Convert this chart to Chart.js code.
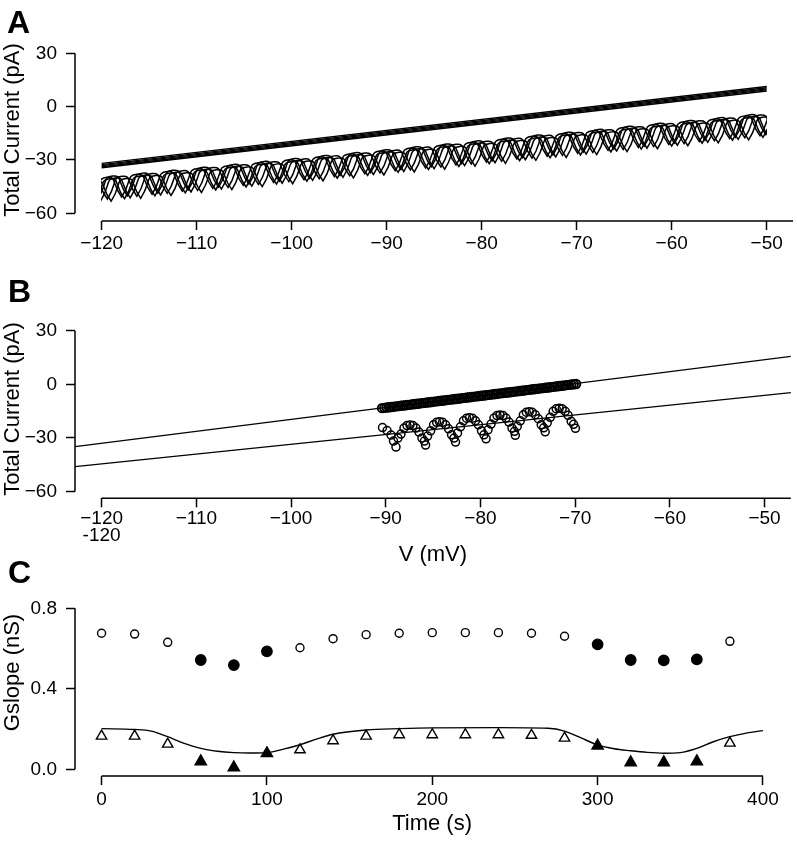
<!DOCTYPE html>
<html>
<head>
<meta charset="utf-8">
<script src="https://cdn.jsdelivr.net/npm/chart.js@4.4.0/dist/chart.umd.min.js"></script>
<style>
  html, body { margin: 0; padding: 0; background: #fff; }
  .panel { position: absolute; left: 0; width: 797px; }
  #panelA { top: 0; height: 272px; }
  #panelB { top: 272px; height: 298px; }
  #panelC { top: 545px; height: 300px; }
</style>
</head>
<body>
<div class="panel" id="panelA"><canvas id="chartA"></canvas></div>
<div class="panel" id="panelB"><canvas id="chartB"></canvas></div>
<div class="panel" id="panelC"><canvas id="chartC"></canvas></div>
<script>
// ---- ticks ----
const VOLT_TICKS = [-120, -110, -100, -90, -80, -70, -60, -50];
const CURRENT_TICKS = [-60, -30, 0, 30];
const TIME_TICKS = [0, 100, 200, 300, 400];
const GSLOPE_TICKS = [0.0, 0.4, 0.8];

// ---- panel A: ramp traces ----
// straight (control) ramps, current at -120 and -50 mV
const aRampV = [-120, -50];
const aUpperStartI = [-31.9, -32.6, -33.2, -33.8, -34.4];
const aUpperEndI = [11.3, 10.6, 10.0, 9.4, 8.8];
// oscillating ramps: cusp (bottom) and arch top positions of one trace
const aCuspV = [-124.2, -121.0, -117.9, -114.7, -111.5, -108.3, -105.1, -101.9, -98.7, -95.5, -92.3, -89.1,
  -85.9, -82.7, -79.5, -76.3, -73.1, -69.9, -66.7, -63.5, -60.3, -57.1, -53.9, -50.7, -47.5];
const aCuspI = [-54.2, -52.5, -50.9, -49.3, -47.6, -46.0, -44.3, -42.7, -41.1, -39.4, -37.8, -36.1,
  -34.5, -32.8, -31.2, -29.5, -27.9, -26.3, -24.6, -23.0, -21.3, -19.7, -18.0, -16.4, -14.7];
const aPeakV = [-122.6, -119.45, -116.3, -113.1, -109.9, -106.7, -103.5, -100.3, -97.1, -93.9, -90.7, -87.5,
  -84.3, -81.1, -77.9, -74.7, -71.5, -68.3, -65.1, -61.9, -58.7, -55.5, -52.3, -49.1];
const aPeakI = [-41.3, -39.7, -38.1, -36.5, -34.8, -33.2, -31.5, -29.9, -28.2, -26.6, -25.0, -23.3,
  -21.7, -20.0, -18.4, -16.7, -15.1, -13.5, -11.8, -10.1, -8.5, -6.9, -5.2, -3.6];
// the repeated sweeps are offset from each other
const aShiftV = [0, 0.3, 0.6, 0.9, 1.6, 2.0];
const aShiftI = [0, -0.9, 0.7, -0.4, 0.5, -0.7];

// ---- panel B: one sweep of each and their fits ----
const bLineV = [-122.8, -47.2];
const bUpperLineI = [-34.9, 15.6];
const bLowerLineI = [-46.1, -4.7];
const bUpperV = [-90.40, -90.15, -89.90, -89.65, -89.40, -89.15, -88.90, -88.65, -88.40, -88.15,
  -87.90, -87.65, -87.40, -87.15, -86.90, -86.65, -86.40, -86.15, -85.90, -85.65,
  -85.40, -85.15, -84.90, -84.65, -84.40, -84.15, -83.90, -83.65, -83.40, -83.15,
  -82.90, -82.65, -82.40, -82.15, -81.90, -81.65, -81.40, -81.15, -80.90, -80.65,
  -80.40, -80.15, -79.90, -79.65, -79.40, -79.15, -78.90, -78.65, -78.40, -78.15,
  -77.90, -77.65, -77.40, -77.15, -76.90, -76.65, -76.40, -76.15, -75.90, -75.65,
  -75.40, -75.15, -74.90, -74.65, -74.40, -74.15, -73.90, -73.65, -73.40, -73.15,
  -72.90, -72.65, -72.40, -72.15, -71.90, -71.65, -71.40, -71.15, -70.90, -70.65,
  -70.40, -70.15, -69.90];
const bUpperI = [-13.36, -13.19, -13.03, -12.86, -12.70, -12.53, -12.37, -12.20, -12.04, -11.87,
  -11.71, -11.54, -11.38, -11.21, -11.05, -10.88, -10.72, -10.55, -10.39, -10.22,
  -10.06, -9.89, -9.72, -9.56, -9.39, -9.23, -9.06, -8.90, -8.73, -8.57,
  -8.40, -8.24, -8.07, -7.91, -7.74, -7.58, -7.41, -7.25, -7.08, -6.92,
  -6.75, -6.59, -6.42, -6.25, -6.09, -5.92, -5.76, -5.59, -5.43, -5.26,
  -5.10, -4.93, -4.77, -4.60, -4.44, -4.27, -4.11, -3.94, -3.78, -3.61,
  -3.45, -3.28, -3.12, -2.95, -2.78, -2.62, -2.45, -2.29, -2.12, -1.96,
  -1.79, -1.63, -1.46, -1.30, -1.13, -0.97, -0.80, -0.64, -0.47, -0.31,
  -0.14, 0.02, 0.19];
const bLowerV = [-90.34, -89.86, -89.44, -89.18,
  -88.92, -88.71, -88.39, -88.07, -87.76, -87.44, -87.13, -86.81, -86.49, -86.18, -85.92,
  -85.79, -85.58, -85.26, -84.95, -84.63, -84.32, -84.00, -83.68, -83.37, -83.05, -82.79,
  -82.63, -82.42, -82.11, -81.79, -81.47, -81.16, -80.84, -80.53, -80.21, -79.89, -79.63,
  -79.41, -79.20, -78.88, -78.57, -78.25, -77.94, -77.62, -77.31, -76.99, -76.67, -76.41,
  -76.32, -76.11, -75.79, -75.47, -75.16, -74.84, -74.53, -74.21, -73.89, -73.58, -73.32,
  -73.16, -72.95, -72.63, -72.32, -72.00, -71.68, -71.37, -71.05, -70.74, -70.42, -70.16,
  -69.97];
const bLowerI = [-24.23, -25.91, -28.44, -31.80,
  -35.17, -30.12, -27.87, -24.51, -23.11, -22.83, -23.11, -24.51, -26.75, -30.12, -31.80,
  -34.04, -29.00, -26.02, -22.66, -21.26, -20.98, -21.26, -22.66, -24.90, -28.27, -30.12,
  -32.36, -27.31, -23.78, -20.42, -19.01, -18.73, -19.01, -20.42, -22.66, -26.02, -28.27,
  -30.51, -25.46, -22.27, -18.90, -17.50, -17.22, -17.50, -18.90, -21.14, -24.51, -26.36,
  -28.60, -23.56, -20.42, -17.05, -15.65, -15.37, -15.65, -17.05, -19.29, -22.66, -24.34,
  -26.58, -21.54, -18.51, -15.14, -13.74, -13.46, -13.74, -15.14, -17.39, -20.75, -22.43,
  -24.68];

// ---- panel C: slope conductance over time ----
const cTime = [0, 20, 40, 60, 80, 100, 120, 140, 160, 180, 200, 220, 240, 260, 280, 300, 320, 340, 360, 380];
const cCircleG = [0.676, 0.672, 0.631, 0.543, 0.518, 0.586, 0.604, 0.649, 0.669, 0.676,
  0.679, 0.679, 0.679, 0.676, 0.661, 0.621, 0.543, 0.541, 0.546, 0.636];
const cTriangleG = [0.165, 0.165, 0.125, 0.039, 0.009, 0.079, 0.097, 0.142, 0.165, 0.172,
  0.172, 0.172, 0.172, 0.169, 0.155, 0.117, 0.034, 0.034, 0.039, 0.130];
const cFilled = [0, 0, 0, 1, 1, 1, 0, 0, 0, 0, 0, 0, 0, 0, 0, 1, 1, 1, 1, 0];
const cFitT = [0, 20, 30, 40, 50, 60, 70, 80, 90, 100, 110, 120, 130, 140, 160, 180, 200, 240,
  270, 280, 290, 300, 310, 320, 330, 340, 350, 360, 370, 380, 390, 400];
const cFitG = [0.202, 0.198, 0.190, 0.162, 0.129, 0.104, 0.090, 0.083, 0.081, 0.083, 0.100, 0.122,
  0.150, 0.174, 0.195, 0.202, 0.206, 0.207, 0.204, 0.190, 0.156, 0.121, 0.102, 0.092, 0.084,
  0.080, 0.083, 0.104, 0.137, 0.162, 0.180, 0.192];

Chart.defaults.font.family = "'Liberation Sans', Arial, Helvetica, sans-serif";
Chart.defaults.color = '#000';
Chart.defaults.animation = false;

const minus = v => (v < 0 ? '\u2212' + Math.abs(v) : String(v));
const zip = (xs, ys) => xs.map((x, i) => ({ x, y: ys[i] }));

// axis lines drawn R style (only over the tick range) + panel letter
const frame = {
  id: 'frame',
  afterDraw(chart, args, o) {
    const { ctx, chartArea, scales: { x, y } } = chart;
    ctx.save();
    ctx.strokeStyle = '#000';
    ctx.lineWidth = 1.5;
    ctx.beginPath();
    ctx.moveTo(chartArea.left, y.getPixelForValue(o.yFrom));
    ctx.lineTo(chartArea.left, y.getPixelForValue(o.yTo));
    ctx.moveTo(x.getPixelForValue(o.xFrom), chartArea.bottom);
    ctx.lineTo(o.xTo == null ? chartArea.right : x.getPixelForValue(o.xTo), chartArea.bottom);
    ctx.stroke();
    ctx.fillStyle = '#000';
    ctx.font = "bold 32px 'Liberation Sans', Arial, sans-serif";
    ctx.textBaseline = 'alphabetic';
    ctx.fillText(o.letter, o.letterX, o.letterY);
    ctx.restore();
  },
};

function axis(o) {
  const vertical = o.position === 'left';
  return {
    type: 'linear',
    position: o.position,
    min: o.min,
    max: o.max,
    border: { display: false },
    grid: {
      drawOnChartArea: false,
      drawTicks: true,
      tickLength: 9,
      tickWidth: 1.5,
      tickColor: '#000',
    },
    ticks: {
      autoSkip: false,
      maxRotation: 0,
      padding: o.pad,
      color: '#000',
      font: { size: 19, lineHeight: o.lineHeight || 1.2 },
      callback: o.format,
    },
    title: o.title
      ? { display: true, text: o.title, padding: 0, color: '#000', font: { size: 22 } }
      : { display: false },
    afterBuildTicks: s => { s.ticks = o.ticks.map(value => ({ value })); },
    afterFit: s => { if (vertical) s.width = o.size; else s.height = o.size; },
  };
}

function baseOptions(padding, scales, frameOpts) {
  return {
    responsive: true,
    maintainAspectRatio: false,
    animation: false,
    layout: { padding },
    plugins: { legend: { display: false }, tooltip: { enabled: false }, frame: frameOpts },
    scales,
  };
}

// ---------- A ----------
const aDatasets = [];
aUpperStartI.forEach((start, k) => {
  aDatasets.push({
    data: zip(aRampV, [start, aUpperEndI[k]]),
    showLine: true, borderColor: '#000', borderWidth: 1.4, pointRadius: 0,
  });
});
aShiftV.forEach((dv, k) => {
  const pts = [];
  aCuspV.forEach((v, j) => {
    const c = { x: v + dv, y: aCuspI[j] + aShiftI[k] };
    pts.push(c, { x: c.x, y: c.y }); // doubled cusp keeps the corner sharp
    if (j < aPeakV.length) pts.push({ x: aPeakV[j] + dv, y: aPeakI[j] + aShiftI[k] });
  });
  aDatasets.push({
    data: pts, showLine: true, borderColor: '#000', borderWidth: 1.5, pointRadius: 0,
    tension: 0.7, clip: { left: -26, right: -26, top: false, bottom: false },
  });
});

new Chart(document.getElementById('chartA'), {
  type: 'scatter',
  data: { datasets: aDatasets },
  options: baseOptions({ left: 0, right: 4, top: 39, bottom: 0 }, {
    x: axis({ position: 'bottom', min: -122.81, max: -47.23, ticks: VOLT_TICKS, format: minus, pad: 2, size: 51 }),
    y: axis({ position: 'left', min: -64.33, max: 38.04, ticks: CURRENT_TICKS, format: minus, pad: 9, size: 75,
      title: 'Total Current (pA)' }),
  }, { yFrom: -60, yTo: 30, xFrom: -120, letter: 'A', letterX: 7, letterY: 33 }),
  plugins: [frame],
});

// ---------- B ----------
new Chart(document.getElementById('chartB'), {
  type: 'scatter',
  data: {
    datasets: [
      { data: zip(bLineV, bUpperLineI), showLine: true, borderColor: '#000', borderWidth: 1.3, pointRadius: 0 },
      { data: zip(bLineV, bLowerLineI), showLine: true, borderColor: '#000', borderWidth: 1.3, pointRadius: 0 },
      { data: zip(bUpperV, bUpperI), pointRadius: 4.2, pointBorderWidth: 2,
        pointBorderColor: '#000', pointBackgroundColor: 'rgba(0,0,0,0)' },
      { data: zip(bLowerV, bLowerI), pointRadius: 4, pointBorderWidth: 1.5,
        pointBorderColor: '#000', pointBackgroundColor: 'rgba(0,0,0,0)' },
    ],
  },
  options: baseOptions({ left: 0, right: 4, top: 47.7, bottom: 1.8 }, {
    x: axis({ position: 'bottom', min: -122.81, max: -47.23, ticks: VOLT_TICKS, pad: 3.5, size: 69.9,
      lineHeight: 0.87, title: 'V (mV)',
      format: v => (v === -120 ? ['\u2212120', '-120'] : minus(v)) }),
    y: axis({ position: 'left', min: -63.84, max: 36.18, ticks: CURRENT_TICKS, format: minus, pad: 9, size: 75,
      title: 'Total Current (pA)' }),
  }, { yFrom: -60, yTo: 30, xFrom: -120, letter: 'B', letterX: 8, letterY: 30 }),
  plugins: [frame],
});

// ---------- C ----------
new Chart(document.getElementById('chartC'), {
  type: 'scatter',
  data: {
    datasets: [
      { data: zip(cFitT, cFitG), showLine: true, borderColor: '#000', borderWidth: 1.4, pointRadius: 0,
        cubicInterpolationMode: 'monotone' },
      { data: zip(cTime, cCircleG), pointStyle: 'circle',
        pointRadius: c => (cFilled[c.dataIndex] ? 5.2 : 4), pointBorderWidth: 1.4, pointBorderColor: '#000',
        pointBackgroundColor: c => (cFilled[c.dataIndex] ? '#000' : 'rgba(0,0,0,0)') },
      { data: zip(cTime, cTriangleG), pointStyle: 'triangle',
        pointRadius: c => (cFilled[c.dataIndex] ? 6.5 : 6), pointBorderWidth: 1.4, pointBorderColor: '#000',
        pointBackgroundColor: c => (cFilled[c.dataIndex] ? '#000' : '#fff') },
    ],
  },
  options: baseOptions({ left: 0, right: 4, top: 24, bottom: 7.8 }, {
    x: axis({ position: 'bottom', min: -16.06, max: 415.8, ticks: TIME_TICKS, format: v => String(v), pad: 3.5,
      size: 61.2, title: 'Time (s)' }),
    y: axis({ position: 'left', min: -0.0333, max: 0.9953, ticks: GSLOPE_TICKS, format: v => v.toFixed(1),
      pad: 9, size: 75, title: 'Gslope (nS)' }),
  }, { yFrom: 0, yTo: 0.8, xFrom: 0, xTo: 400, letter: 'C', letterX: 8, letterY: 38 }),
  plugins: [frame],
});
</script>
</body>
</html>
